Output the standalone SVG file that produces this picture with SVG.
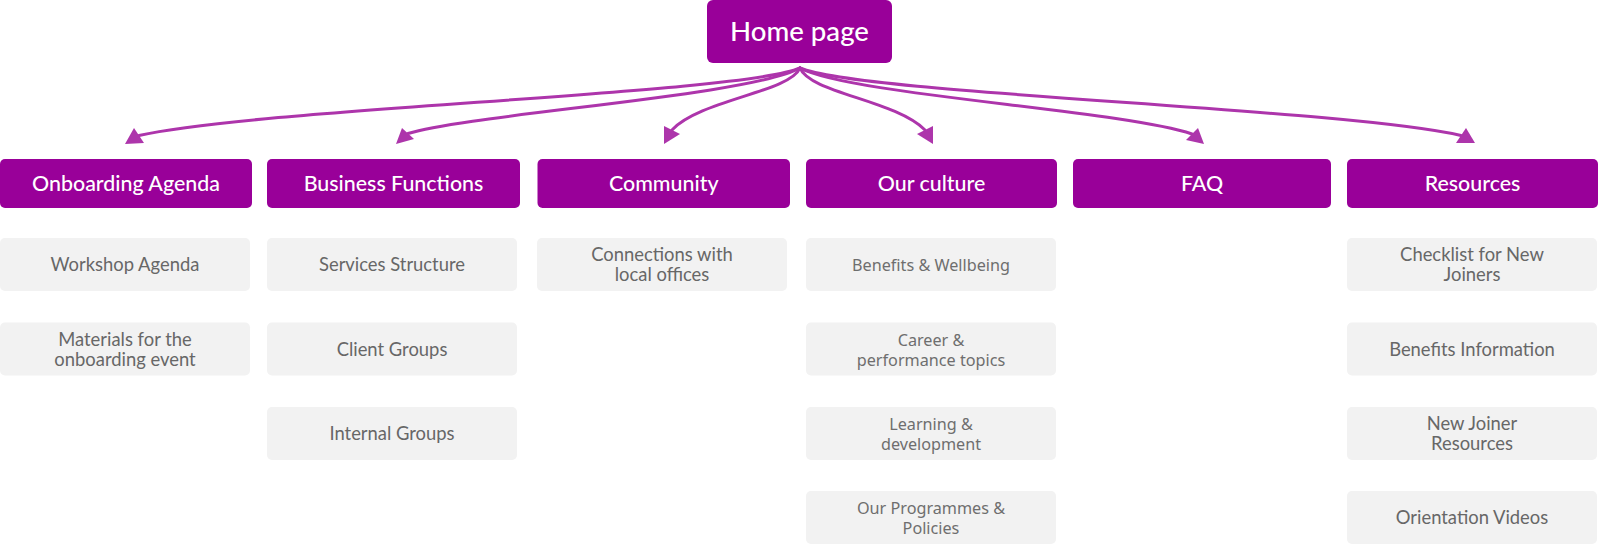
<svg xmlns="http://www.w3.org/2000/svg" width="1600" height="545" viewBox="0 0 1600 545">
  <style>
    .head { fill: #990099; }
    .head-text { fill: #ffffff; font-family: Lato, "Open Sans", sans-serif; font-size: 21.4px; font-weight: 500; text-anchor: middle; }
    .home-text { fill: #ffffff; font-family: Lato, "Open Sans", sans-serif; font-size: 27.6px; font-weight: 500; text-anchor: middle; }
    .item { fill: #f2f2f2; }
    .item-text { fill: #676767; font-family: Lato, "Open Sans", sans-serif; font-size: 18.4px; text-anchor: middle; }
    .item-text.alt { fill: #6e6e6e; font-family: "Noto Sans", Lato, sans-serif; font-size: 16.2px; }
    .link { fill: none; stroke: #ad35ab; stroke-width: 3; stroke-linecap: round; }
    .tip { fill: #ad35ab; }
  </style>

  <!-- connectors from the home page to each section -->
  <g id="connectors">
    <path class="link" d="M800,68 C740,94 260,108 139,135.5"/>
    <polygon class="tip" points="134,128 125,144 144,143"/>
    <path class="link" d="M800,68 C750,96 470,114 408,133.5"/>
    <polygon class="tip" points="402,128 396,144 414,139"/>
    <path class="link" d="M800,68 C790,92 700,100 672,130"/>
    <polygon class="tip" points="664,126 664,144 680,134"/>
    <path class="link" d="M800,68 C810,93 895,100 925,130"/>
    <polygon class="tip" points="933,126 917,134 933,144"/>
    <path class="link" d="M800,68 C850,95 1120,110 1192,134"/>
    <polygon class="tip" points="1198,128 1186,140 1204,144"/>
    <path class="link" d="M800,68 C860,94 1340,108 1461,135.5"/>
    <polygon class="tip" points="1466,128 1456,143 1475,143"/>
  </g>

  <!-- root -->
  <g id="home">
    <rect class="head" x="707" y="0" width="185" height="63" rx="6"/>
    <text class="home-text" x="799.5" y="41">Home page</text>
  </g>

  <!-- section headers -->
  <g id="onboarding-agenda">
    <rect class="head" x="0" y="159" width="252" height="49" rx="5"/>
    <text class="head-text" x="126" y="191">Onboarding Agenda</text>
  </g>
  <g id="business-functions">
    <rect class="head" x="267" y="159" width="253" height="49" rx="5"/>
    <text class="head-text" x="393.5" y="191">Business Functions</text>
  </g>
  <g id="community">
    <rect class="head" x="537.5" y="159" width="252.5" height="49" rx="5"/>
    <text class="head-text" x="663.75" y="191">Community</text>
  </g>
  <g id="our-culture">
    <rect class="head" x="806" y="159" width="251" height="49" rx="5"/>
    <text class="head-text" x="931.5" y="191">Our culture</text>
  </g>
  <g id="faq">
    <rect class="head" x="1073" y="159" width="258" height="49" rx="5"/>
    <text class="head-text" x="1202" y="191">FAQ</text>
  </g>
  <g id="resources">
    <rect class="head" x="1347" y="159" width="251" height="49" rx="5"/>
    <text class="head-text" x="1472.5" y="191">Resources</text>
  </g>

  <!-- Onboarding Agenda items -->
  <g id="workshop-agenda">
    <rect class="item" x="0" y="238" width="250" height="53" rx="5"/>
    <text class="item-text" x="125" y="271">Workshop Agenda</text>
  </g>
  <g id="materials">
    <rect class="item" x="0" y="322.5" width="250" height="53" rx="5"/>
    <text class="item-text" x="125" y="345.5">Materials for the</text>
    <text class="item-text" x="125" y="365.5">onboarding event</text>
  </g>

  <!-- Business Functions items -->
  <g id="services-structure">
    <rect class="item" x="267" y="238" width="250" height="53" rx="5"/>
    <text class="item-text" x="392" y="271">Services Structure</text>
  </g>
  <g id="client-groups">
    <rect class="item" x="267" y="322.5" width="250" height="53" rx="5"/>
    <text class="item-text" x="392" y="355.5">Client Groups</text>
  </g>
  <g id="internal-groups">
    <rect class="item" x="267" y="407" width="250" height="53" rx="5"/>
    <text class="item-text" x="392" y="440">Internal Groups</text>
  </g>

  <!-- Community items -->
  <g id="local-offices">
    <rect class="item" x="537" y="238" width="250" height="53" rx="5"/>
    <text class="item-text" x="662" y="261">Connections with</text>
    <text class="item-text" x="662" y="281">local offices</text>
  </g>

  <!-- Our culture items -->
  <g id="benefits-wellbeing">
    <rect class="item" x="806" y="238" width="250" height="53" rx="5"/>
    <text class="item-text alt" x="931" y="271">Benefits &amp; Wellbeing</text>
  </g>
  <g id="career-performance">
    <rect class="item" x="806" y="322.5" width="250" height="53" rx="5"/>
    <text class="item-text alt" x="931" y="345.5">Career &amp;</text>
    <text class="item-text alt" x="931" y="365.5">performance topics</text>
  </g>
  <g id="learning-development">
    <rect class="item" x="806" y="407" width="250" height="53" rx="5"/>
    <text class="item-text alt" x="931" y="430">Learning &amp;</text>
    <text class="item-text alt" x="931" y="450">development</text>
  </g>
  <g id="programmes-policies">
    <rect class="item" x="806" y="491" width="250" height="53" rx="5"/>
    <text class="item-text alt" x="931" y="514">Our Programmes &amp;</text>
    <text class="item-text alt" x="931" y="534">Policies</text>
  </g>

  <!-- Resources items -->
  <g id="checklist">
    <rect class="item" x="1347" y="238" width="250" height="53" rx="5"/>
    <text class="item-text" x="1472" y="261">Checklist for New</text>
    <text class="item-text" x="1472" y="281">Joiners</text>
  </g>
  <g id="benefits-information">
    <rect class="item" x="1347" y="322.5" width="250" height="53" rx="5"/>
    <text class="item-text" x="1472" y="355.5">Benefits Information</text>
  </g>
  <g id="new-joiner-resources">
    <rect class="item" x="1347" y="407" width="250" height="53" rx="5"/>
    <text class="item-text" x="1472" y="430">New Joiner</text>
    <text class="item-text" x="1472" y="450">Resources</text>
  </g>
  <g id="orientation-videos">
    <rect class="item" x="1347" y="491" width="250" height="53" rx="5"/>
    <text class="item-text" x="1472" y="524">Orientation Videos</text>
  </g>
</svg>
